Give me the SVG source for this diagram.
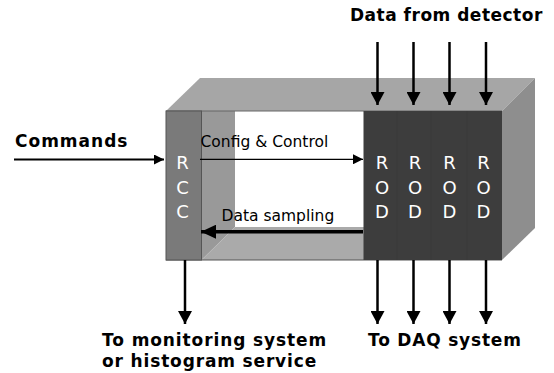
<svg xmlns="http://www.w3.org/2000/svg" width="554" height="373" viewBox="0 0 554 373">
<style>
.bold{font-family:"DejaVu Sans",Verdana,sans-serif;font-weight:bold;font-size:17px;letter-spacing:0.5px;fill:#000}
.reg{font-family:"DejaVu Sans",Verdana,sans-serif;font-size:15.5px;fill:#000}
.lab{font-family:"DejaVu Sans",Verdana,sans-serif;font-size:18px;fill:#fff;text-anchor:middle}
.v{stroke:#000;stroke-width:2.5;fill:none;marker-end:url(#big)}
</style>
<defs>
<marker id="big" markerUnits="userSpaceOnUse" markerWidth="14" markerHeight="14" refX="13" refY="7" orient="auto"><path d="M0,0 L13,7 L0,14 Z" fill="#000"/></marker>
<marker id="small" markerUnits="userSpaceOnUse" markerWidth="11" markerHeight="10" refX="10" refY="5" orient="auto"><path d="M0,0 L10,5 L0,10 Z" fill="#000"/></marker>
<marker id="thick" markerUnits="userSpaceOnUse" markerWidth="16" markerHeight="14" refX="15" refY="7" orient="auto"><path d="M0,0 L15,7 L0,14 Z" fill="#000"/></marker>
</defs>
<g id="box">
<polygon points="166,111 200,78 535,78 502,111" fill="#a6a6a6"/>
<polygon points="502,111 535,78 535,228 502,260" fill="#8e8e8e"/>
<rect x="235" y="111" width="129" height="116" fill="#fff"/>
<polygon points="201.5,111 235,111 235,227 201.5,260" fill="#999"/>
<polygon points="201.5,260 235,227 364,227 364,260" fill="#aaa"/>
<line x1="166" y1="111" x2="502" y2="111" stroke="#666" stroke-width="1.2"/>
<line x1="166" y1="260" x2="502" y2="260" stroke="#555" stroke-width="1.2"/>
</g>
<g id="rcc">
<rect x="166" y="111" width="35.5" height="149" fill="#7a7a7a" stroke="#555" stroke-width="1"/>
<text class="lab" x="182.5" y="169">R</text>
<text class="lab" x="182.5" y="194">C</text>
<text class="lab" x="182.5" y="218">C</text>
</g>
<g id="rod">
<rect x="363.5" y="111" width="138.5" height="149" fill="#3d3d3d"/>
<g stroke="#393939" stroke-width="0.6"><line x1="397" y1="111" x2="397" y2="260"/><line x1="431" y1="111" x2="431" y2="260"/><line x1="467" y1="111" x2="467" y2="260"/></g>
<text class="lab" x="382" y="169">R</text><text class="lab" x="382" y="194">O</text><text class="lab" x="382" y="218">D</text>
<text class="lab" x="415" y="169">R</text><text class="lab" x="415" y="194">O</text><text class="lab" x="415" y="218">D</text>
<text class="lab" x="449.5" y="169">R</text><text class="lab" x="449.5" y="194">O</text><text class="lab" x="449.5" y="218">D</text>
<text class="lab" x="483.5" y="169">R</text><text class="lab" x="483.5" y="194">O</text><text class="lab" x="483.5" y="218">D</text>
</g>
<g id="connectors">
<line x1="14" y1="159.5" x2="164" y2="159.5" stroke="#000" stroke-width="2" marker-end="url(#small)"/>
<line x1="200" y1="159.3" x2="363" y2="159.3" stroke="#000" stroke-width="1.3" marker-end="url(#small)"/>
<line x1="363" y1="231.7" x2="201" y2="231.7" stroke="#000" stroke-width="3.5" marker-end="url(#thick)"/>
<line class="v" x1="377.5" y1="42" x2="377.5" y2="105"/>
<line class="v" x1="413.5" y1="42" x2="413.5" y2="105"/>
<line class="v" x1="449.5" y1="42" x2="449.5" y2="105"/>
<line class="v" x1="486" y1="42" x2="486" y2="105"/>
<line class="v" x1="377.5" y1="260" x2="377.5" y2="324"/>
<line class="v" x1="413.5" y1="260" x2="413.5" y2="324"/>
<line class="v" x1="449.5" y1="260" x2="449.5" y2="324"/>
<line class="v" x1="486" y1="260" x2="486" y2="324"/>
<line class="v" x1="185" y1="260" x2="185" y2="324"/>
</g>
<g id="labels">
<text class="bold" x="350" y="21">Data from detector</text>
<text class="bold" x="15" y="147" style="letter-spacing:1px">Commands</text>
<text class="reg" x="200.5" y="147">Config &amp; Control</text>
<text class="reg" x="221.5" y="221">Data sampling</text>
<text class="bold" x="102" y="346" style="letter-spacing:0.9px">To monitoring system</text>
<text class="bold" x="102" y="367" style="letter-spacing:0.85px">or histogram service</text>
<text class="bold" x="368" y="346" style="letter-spacing:0.8px">To DAQ system</text>
</g>
</svg>
